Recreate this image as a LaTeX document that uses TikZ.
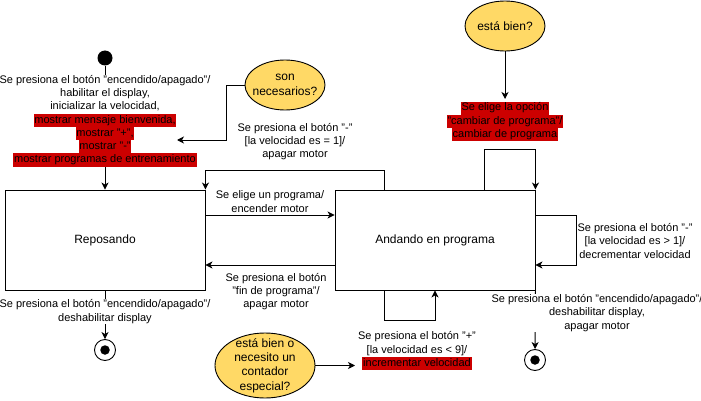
\documentclass[tikz,border=0pt]{standalone}
\usepackage{fontspec}
\setmainfont{Liberation Sans}
\usetikzlibrary{shapes.geometric,arrows.meta,calc}
\definecolor{hl}{HTML}{CC0000}
\definecolor{ellfill}{HTML}{FFD966}
\newcommand{\hlt}[1]{{\setlength{\fboxsep}{0pt}\colorbox{hl}{\strut\kern0.8pt #1\kern0.8pt}}}
\begin{document}
\begin{tikzpicture}[x=1pt,y=-1pt,
 lbl/.style={font=\fontsize{11}{13.2}\selectfont, align=center, inner sep=0.5pt},
 state/.style={draw, line width=0.9pt, minimum width=200pt, minimum height=100pt, font=\fontsize{12}{14.4}\selectfont, inner sep=0},
 ell/.style={ellipse, draw=black, fill=ellfill, line width=0.9pt, inner sep=0},
 etxt/.style={font=\fontsize{12}{14.4}\selectfont, align=center, inner sep=0},
 arr/.style={line width=0.9pt, -{Stealth[length=7pt,width=7pt,inset=2pt]}},
 wb/.style={fill=white}]
\useasboundingbox (0,0) rectangle (701,401);

\node[state] (rep) at (105,240) {Reposando};
\node[state] (and) at (435,240) {Andando en programa};

\node[circle, fill=black, minimum size=15pt, inner sep=0] (ini) at (105,58) {};
\node[circle, draw, line width=0.9pt, fill=white, minimum size=21pt, inner sep=0] (fin1) at (105,350) {};
\node[circle, fill=black, minimum size=9.5pt, inner sep=0] (fin1c) at (fin1) {};
\node[circle, draw, line width=0.9pt, fill=white, minimum size=21pt, inner sep=0] (fin2) at (535,360) {};
\node[circle, fill=black, minimum size=9.5pt, inner sep=0] (fin2c) at (fin2) {};

% initial transition
\draw[arr] (ini) -- (rep.north);
\node[lbl, wb] (lblinit) at (105,121) {Se presiona el botón "encendido/apagado"/\\habilitar el display,\\inicializar la velocidad,\\\hlt{mostrar mensaje bienvenida,}\\\hlt{mostrar "+",}\\\hlt{mostrar "-"}\\\hlt{mostrar programas de entrenamiento}};

% Andando -> Reposando (top)
\draw[arr] ([xshift=50pt]and.north west) |- ([yshift=19pt]rep.north east) -- (rep.north east);
\node[lbl] (lblmin1) at (295,141.5) {Se presiona el botón "-"\\{[}la velocidad es = 1]/\\apagar motor};

% self loop top
\draw[arr] ([xshift=150pt]and.north west) |- ([yshift=40pt]and.north east) -- (and.north east);

% self loop right
\draw[arr] ([yshift=25pt]and.east) -- ++(41,0) |- ([yshift=-25pt]and.east);
\node[lbl] (lblmin2) at (635,241) {Se presiona el botón "-"\\{[}la velocidad es > 1]/\\decrementar velocidad};

% self loop bottom
\draw[arr] ([xshift=50pt]and.south west) -- ++(0,30) -| (and.south);
\node[lbl] (lblplus) at (417,351) {Se presiona el botón "+"\\{[}la velocidad es < 9]/\\\hlt{incrementar velocidad}};

% Reposando <-> Andando
\draw[arr] ([yshift=25pt]rep.east) -- ([yshift=25pt]and.west);
\node[lbl] (lblelige) at (270,201.5) {Se elige un programa/\\encender motor};
\draw[arr] ([yshift=-25pt]and.west) -- ([yshift=-25pt]rep.east);
\node[lbl] (lblfin) at (276,291.5) {Se presiona el botón\\"fin de programa"/\\apagar motor};

% final transitions
\draw[arr] (rep.south) -- (fin1);
\node[lbl, wb] (lbloff1) at (105,311.5) {Se presiona el botón "encendido/apagado"/\\deshabilitar display};
\draw[arr] (and.south east) -- (fin2);
\node[lbl, wb] (lbloff2) at (597,313) {Se presiona el botón "encendido/apagado"/\\deshabilitar display,\\apagar motor};

% notes
\node[ell, minimum width=80pt, minimum height=50pt] (son) at (285,85) {};
\node[etxt] (sontxt) at (son) {son\\necesarios?};
\coordinate (sontip) at (177,140);
\draw[arr] (son.west) -- ++(-18,0) |- (sontip);

\node[ell, minimum width=80pt, minimum height=50pt] (eb) at (505,26) {};
\node[etxt] (ebtxt) at (eb) {está bien?};
\node[lbl] (lblcambio) at (505,121.5) {\hlt{Se elige la opción}\\\hlt{"cambiar de  programa"/}\\\hlt{cambiar de programa}};
\coordinate (cambtip) at (505,99);
\draw[arr] (eb.south) -- (cambtip);

\node[ell, minimum width=100pt, minimum height=65pt] (eb2) at (265,365.5) {};
\node[etxt] (eb2txt) at (eb2) {está bien o\\necesito un\\contador\\especial?};
\coordinate (plustip) at (355,365.5);
\draw[arr] (eb2.east) -- (plustip);
\end{tikzpicture}
\end{document}
